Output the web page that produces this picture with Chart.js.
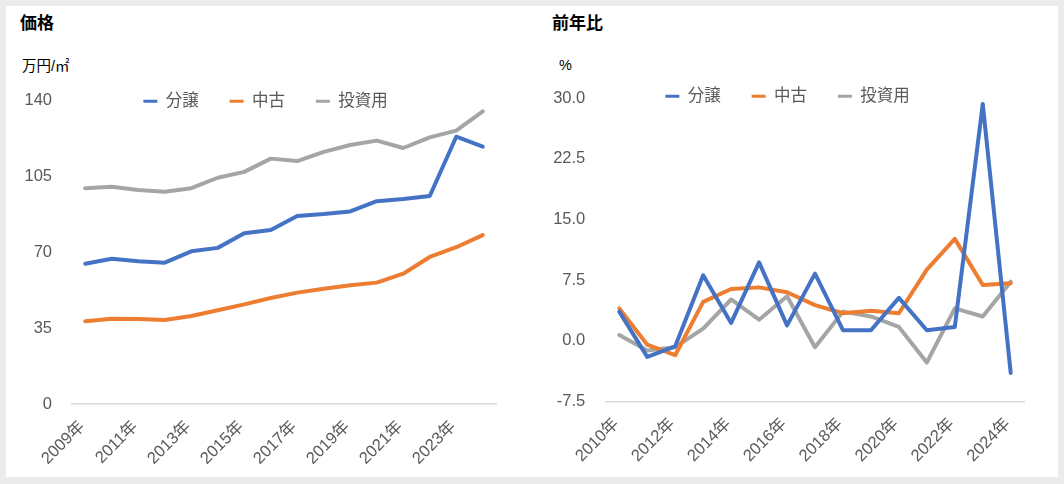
<!DOCTYPE html>
<html><head><meta charset="utf-8">
<script src="https://cdn.jsdelivr.net/npm/chart.js@4.4.1/dist/chart.umd.min.js"></script>
<style>
html,body{margin:0;padding:0;background:#ebebeb;width:1064px;height:484px;overflow:hidden;}
#panel{position:absolute;left:6px;top:6px;width:1052px;height:471px;background:#fff;}
canvas{position:absolute;}
.t{position:absolute;font-family:"Liberation Sans","Noto Sans CJK JP",sans-serif;color:#000;white-space:nowrap;}
</style></head><body>
<div id="panel"></div>
<div class="t" style="left:20px;top:14px;font-size:17px;line-height:20px;font-weight:bold;">価格</div>
<div class="t" style="left:22px;top:57px;font-size:14.5px;line-height:18px;">万円/㎡</div>
<div class="t" style="left:552px;top:14px;font-size:17px;line-height:20px;font-weight:bold;">前年比</div>
<div class="t" style="left:559px;top:56px;font-size:14.5px;line-height:18px;">%</div>
<canvas id="c1" width="526" height="471" style="left:6px;top:6px;width:526px;height:471px"></canvas>
<canvas id="c2" width="526" height="471" style="left:532px;top:6px;width:526px;height:471px"></canvas>
<script>
// ---- data ----
const seriesNames = ['分譲', '中古', '投資用'];
const priceYears = ['2009年','2010年','2011年','2012年','2013年','2014年','2015年','2016年','2017年','2018年','2019年','2020年','2021年','2022年','2023年','2024年'];
const priceBunjo = [64.6, 66.9, 65.7, 65.1, 70.3, 71.9, 78.6, 80.1, 86.6, 87.5, 88.7, 93.4, 94.4, 95.8, 123.1, 118.5];
const priceChuko = [38.1, 39.3, 39.2, 38.7, 40.5, 43.2, 45.9, 48.8, 51.3, 53.1, 54.7, 55.9, 60.0, 67.7, 72.2, 77.8];
const priceToshi = [99.4, 100.1, 98.6, 97.7, 99.4, 104.2, 106.9, 113.0, 111.9, 116.1, 119.3, 121.3, 117.9, 122.8, 125.9, 134.8];
const priceTicks = [0, 35, 70, 105, 140];

const yoyYears = ['2010年','2011年','2012年','2013年','2014年','2015年','2016年','2017年','2018年','2019年','2020年','2021年','2022年','2023年','2024年'];
const yoyBunjo = [3.6, -2.0, -0.7, 8.1, 2.2, 9.7, 1.9, 8.3, 1.3, 1.3, 5.3, 1.3, 1.7, 29.3, -4.0];
const yoyChuko = [4.0, -0.5, -1.8, 4.8, 6.4, 6.6, 6.0, 4.4, 3.4, 3.7, 3.4, 8.8, 12.6, 6.9, 7.1];
const yoyToshi = [0.7, -1.2, -0.8, 1.5, 5.1, 2.6, 5.5, -0.8, 3.6, 3.0, 1.7, -2.7, 4.0, 3.0, 7.3];
const yoyTicks = [-7.5, 0, 7.5, 15, 22.5, 30];

const colors = ['#4472C4', '#ED7D31', '#A5A5A5'];

Chart.defaults.font.family = '"Liberation Sans","Noto Sans CJK JP",sans-serif';
Chart.defaults.font.size = 16;
Chart.defaults.color = '#595959';

const legendPlace = {
  id: 'legendPlace',
  beforeLayout(chart) {
    const lg = chart.legend;
    if (lg && !lg._patched) {
      const f = lg.fit;
      lg.fit = function () { f.call(this); this.height = 0; };
      lg._patched = true;
    }
  },
  afterLayout(chart, args, opts) {
    const lg = chart.legend;
    const pad = lg.options.labels.padding;
    lg.left = opts.cx - 230; lg.right = opts.cx + 230; lg.width = 460;
    lg.top = opts.cy - pad - 8; lg.bottom = lg.top + 100; lg.height = 100;
  }
};

function makeDatasets(arrs) {
  return arrs.map((d, i) => ({
    label: seriesNames[i], data: d, borderColor: colors[i], backgroundColor: colors[i],
    borderWidth: 4, pointRadius: 0, tension: 0, fill: false,
    borderJoinStyle: 'round', borderCapStyle: 'round', pointStyle: 'line'
  }));
}

function makeChart(id, labels, arrs, ticks, fmt, L) {
  const tickVals = ticks;
  return new Chart(document.getElementById(id), {
    type: 'line',
    data: { labels: labels, datasets: makeDatasets(arrs) },
    plugins: [legendPlace],
    options: {
      responsive: false, animation: false,
      layout: { padding: { left: 0, top: L.top, right: L.right, bottom: 0 } },
      plugins: {
        legendPlace: { cx: L.cx, cy: L.cy },
        tooltip: { enabled: false },
        legend: {
          position: 'top',
          labels: {
            usePointStyle: true, pointStyle: 'line', pointStyleWidth: 14, padding: 31,
            color: '#595959', font: { size: 16.5 },
            generateLabels(chart) {
              const items = Chart.defaults.plugins.legend.labels.generateLabels(chart);
              items.forEach(it => { it.lineWidth = 3; it.lineCap = 'butt'; });
              return items;
            }
          }
        }
      },
      scales: {
        x: {
          offset: true,
          grid: { display: false, drawTicks: false },
          border: { display: true, color: '#d9d9d9', width: 1.5 },
          ticks: {
            autoSkip: false, minRotation: 45, maxRotation: 45, padding: 13, labelOffset: -3,
            color: '#595959', font: { size: 16.5 },
            callback(v, i) { return i % 2 === 0 ? this.getLabelForValue(v) : null; }
          },
          afterFit(s) { s.height = L.xh; }
        },
        y: {
          min: tickVals[0], max: tickVals[tickVals.length - 1],
          grid: { display: false, drawTicks: false },
          border: { display: false },
          afterBuildTicks(s) { s.ticks = tickVals.map(v => ({ value: v })); },
          ticks: { padding: 20, color: '#595959', font: { size: 16.5 }, callback: v => fmt(v) },
          afterFit(s) { s.width = L.yw; }
        }
      }
    }
  });
}

makeChart('c1', priceYears, [priceBunjo, priceChuko, priceToshi], priceTicks, v => String(v),
  { top: 94, right: 36, xh: 73, yw: 66, cx: 259.5, cy: 95 });
makeChart('c2', yoyYears, [yoyBunjo, yoyChuko, yoyToshi], yoyTicks, v => v.toFixed(1),
  { top: 92.3, right: 33.3, xh: 75.7, yw: 73.3, cx: 255.5, cy: 90 });
</script>
</body></html>
